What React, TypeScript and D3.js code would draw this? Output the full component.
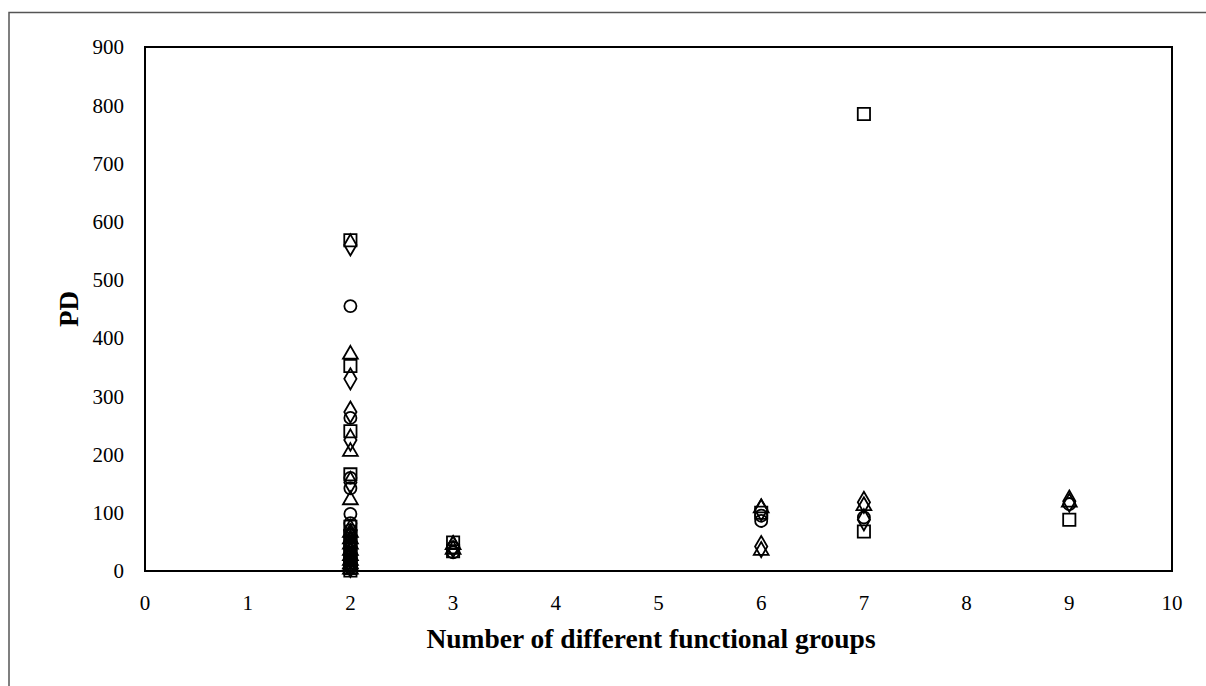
import React from "react";
import * as d3 from "d3";

const xTicks = [0, 1, 2, 3, 4, 5, 6, 7, 8, 9, 10];
const yTicks = [0, 100, 200, 300, 400, 500, 600, 700, 800, 900];

const squares: [number, number][] = [
  [2, 568], [2, 352], [2, 240], [2, 166], [2, 76], [2, 60], [2, 50], [2, 40], [2, 30], [2, 20],
  [2, 15], [2, 10], [2, 5], [2, 1],
  [3, 49], [3, 34], [6, 100], [7, 785], [7, 68], [9, 88],
];
const diamonds: [number, number][] = [
  [2, 560], [2, 330], [2, 273], [2, 225], [2, 152], [2, 70], [2, 58], [2, 48], [2, 40], [2, 30],
  [2, 22], [2, 14], [2, 8],
  [3, 42], [6, 105], [6, 42], [7, 118], [7, 88], [9, 120],
];
const triangles: [number, number][] = [
  [2, 372], [2, 205], [2, 122], [2, 66], [2, 55], [2, 46], [2, 35], [2, 26], [2, 18], [2, 12],
  [2, 8], [2, 3],
  [3, 45], [3, 37], [6, 108], [6, 35], [7, 112], [9, 118],
];
const circles: [number, number][] = [
  [2, 455], [2, 263], [2, 160], [2, 142], [2, 98], [2, 82], [2, 70], [2, 62], [2, 45], [2, 35],
  [2, 25], [2, 18], [2, 12], [2, 6],
  [3, 40], [3, 32], [6, 86], [6, 95], [7, 92], [9, 115],
];

const series = [
  { name: "squares", data: squares, symbol: d3.symbolSquare, size: 150 },
  { name: "diamonds", data: diamonds, symbol: d3.symbolDiamond, size: 130 },
  { name: "triangles", data: triangles, symbol: d3.symbolTriangle, size: 95 },
  { name: "circles", data: circles, symbol: d3.symbolCircle, size: 115 },
];

export default function App() {
  const W = 1206, H = 686;
  const m = { left: 145, right: 1172, top: 47, bottom: 571 };
  const x = d3.scaleLinear().domain([0, 10]).range([m.left, m.right]);
  const y = d3.scaleLinear().domain([0, 900]).range([m.bottom, m.top]);
  const font = "'Liberation Serif', 'Times New Roman', serif";

  return (
    <svg width={W} height={H} style={{ position: "absolute", left: 0, top: 0 }}>
      <rect x={0} y={0} width={W} height={H} fill="#fff" />
      <rect x={9} y={12.5} width={W + 20} height={H + 20} fill="none" stroke="#555" strokeWidth={1.5} />
      <rect x={m.left} y={m.top} width={m.right - m.left} height={m.bottom - m.top} fill="none" stroke="#000" strokeWidth={2} />
      {yTicks.map((t) => (
        <text key={"y" + t} x={m.left - 21} y={y(t)} dy="0.35em" textAnchor="end" fontFamily={font} fontSize={21} fill="#000">
          {t}
        </text>
      ))}
      {xTicks.map((t) => (
        <text key={"x" + t} x={x(t)} y={610} textAnchor="middle" fontFamily={font} fontSize={21} fill="#000">
          {t}
        </text>
      ))}
      <text x={651} y={648} textAnchor="middle" fontFamily={font} fontSize={27.5} fontWeight="bold" fill="#000">
        Number of different functional groups
      </text>
      <text transform={`translate(78, ${(m.top + m.bottom) / 2}) rotate(-90)`} textAnchor="middle" fontFamily={font} fontSize={27} fontWeight="bold" fill="#000">
        PD
      </text>
      {series.map((s) =>
        s.data.map((d, i) => (
          <path
            key={s.name + i}
            d={d3.symbol().type(s.symbol).size(s.size)() || ""}
            transform={`translate(${x(d[0])}, ${y(d[1])})`}
            fill="none"
            stroke="#000"
            strokeWidth={1.8}
          />
        ))
      )}
    </svg>
  );
}
